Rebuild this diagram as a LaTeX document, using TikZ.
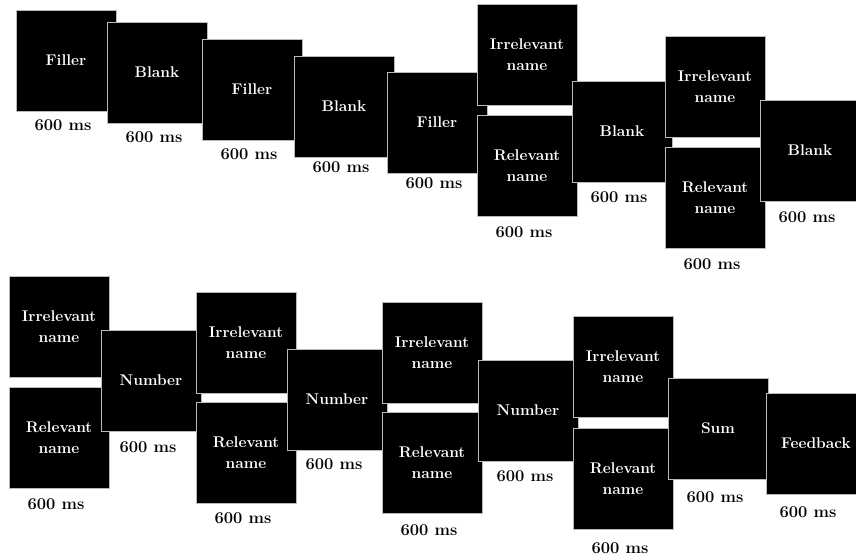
\documentclass[tikz,border=0pt]{standalone}
\usepackage{tikz}
\usetikzlibrary{positioning}
\definecolor{ScreenBlack}{RGB}{0,0,0}
\definecolor{EdgeGray}{RGB}{185,185,185}

\begin{document}
\begin{tikzpicture}[
    x=1pt, y=-1pt,
    node distance=10pt,
    screen/.style={rectangle, draw=EdgeGray, fill=ScreenBlack, line width=0.8pt,
                   minimum width=100pt, minimum height=101pt,
                   inner sep=0pt, outer sep=0pt, anchor=north west,
                   align=center, text=white,
                   font=\fontsize{15.5}{21}\selectfont\bfseries},
    dur/.style={font=\fontsize{16.5}{18}\selectfont\bfseries, text=black,
                inner sep=2pt, xshift=-3pt},
]

% ── Page frame ──
\useasboundingbox (0,0) rectangle (856,558);

% ── Top row: filler / blank screens ──
\node[screen] (fillA) at (16,10) {Filler};
\node[screen] (blankA) at (107,22) {Blank};
\node[screen] (fillB) at (202,39) {Filler};
\node[screen] (blankB) at (294,56) {Blank};
\node[screen] (fillC) at (387,72) {Filler};

% ── Top row: first name pair ──
\node[screen] (irrA) at (477,4) {Irrelevant\\name};
\node[screen, below=of irrA] (relA) {Relevant\\name};

\node[screen] (blankC) at (572,81) {Blank};

% ── Top row: second name pair ──
\node[screen] (irrB) at (665,36) {Irrelevant\\name};
\node[screen, below=of irrB] (relB) {Relevant\\name};

\node[screen] (blankD) at (760,100) {Blank};

% ── Top row: durations ──
\node[dur, below=6pt of fillA] (tFillA) {600 ms};
\node[dur, below=6pt of blankA] (tBlankA) {600 ms};
\node[dur, below=6pt of fillB] (tFillB) {600 ms};
\node[dur, below=2pt of blankB] (tBlankB) {600 ms};
\node[dur, below=2pt of fillC] (tFillC) {600 ms};
\node[dur, below=8pt of relA] (tPairA) {600 ms};
\node[dur, below=7pt of blankC] (tBlankC) {600 ms};
\node[dur, below=8pt of relB] (tPairB) {600 ms};
\node[dur, below=8pt of blankD] (tBlankD) {600 ms};

% ── Bottom row: name pairs and numbers ──
\node[screen] (irrC) at (9,276) {Irrelevant\\name};
\node[screen, below=of irrC] (relC) {Relevant\\name};

\node[screen] (numA) at (101,330) {Number};

\node[screen] (irrD) at (196,292) {Irrelevant\\name};
\node[screen, below=9pt of irrD] (relD) {Relevant\\name};

\node[screen] (numB) at (287,349) {Number};

\node[screen] (irrE) at (382,302) {Irrelevant\\name};
\node[screen, below=9pt of irrE] (relE) {Relevant\\name};

\node[screen] (numC) at (478,360) {Number};

\node[screen] (irrF) at (573,316) {Irrelevant\\name};
\node[screen, below=11pt of irrF] (relF) {Relevant\\name};

% ── Bottom row: sum and feedback ──
\node[screen] (sumA) at (668,378) {Sum};
\node[screen] (feedA) at (766,393) {Feedback};

% ── Bottom row: durations ──
\node[dur, below=8pt of relC] (tPairC) {600 ms};
\node[dur, below=8pt of numA] (tNumA) {600 ms};
\node[dur, below=7pt of relD] (tPairD) {600 ms};
\node[dur, below=6pt of numB] (tNumB) {600 ms};
\node[dur, below=9pt of relE] (tPairE) {600 ms};
\node[dur, below=7pt of numC] (tNumC) {600 ms};
\node[dur, below=11pt of relF] (tPairF) {600 ms};
\node[dur, below=10pt of sumA] (tSumA) {600 ms};
\node[dur, below=10pt of feedA, xshift=-5pt] (tFeedA) {600 ms};

\end{tikzpicture}
\end{document}
